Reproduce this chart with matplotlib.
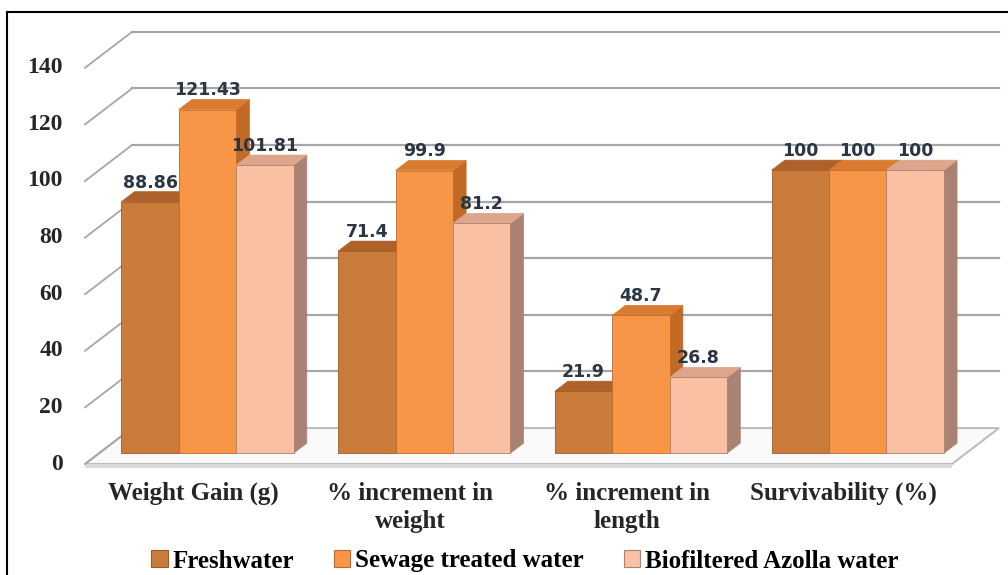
import matplotlib
matplotlib.use("Agg")
import matplotlib.pyplot as plt
from matplotlib.patches import Polygon, Patch
from matplotlib.lines import Line2D

categories = ["Weight Gain (g)", "% increment in\nweight", "% increment in\nlength", "Survivability (%)"]
series_names = ["Freshwater", "Sewage treated water", "Biofiltered Azolla water"]
freshwater = [88.86, 71.4, 21.9, 100]
sewage = [121.43, 99.9, 48.7, 100]
azolla = [101.81, 81.2, 26.8, 100]
value_labels = [["88.86", "71.4", "21.9", "100"],
                ["121.43", "99.9", "48.7", "100"],
                ["101.81", "81.2", "26.8", "100"]]
y_ticks = [0, 20, 40, 60, 80, 100, 120, 140]

# face colours: front, top, side
colors = [("#C97B3B", "#AE6128", "#A35A24"),
          ("#F79646", "#D97B30", "#C26A25"),
          ("#F9C1A2", "#DDA58B", "#AA8274")]

# oblique depth offset (category units, value units)
DX, DV = 0.217, 12.7
BAR_D0, BAR_D1 = 0.30, 0.58
BAR_W = 0.265


def proj(x, v, d):
    return (x + d * DX, v + d * DV)


def draw_bar(ax, x0, h, cols):
    front, top, side = cols
    x1 = x0 + BAR_W
    f = [proj(x0, 0, BAR_D0), proj(x1, 0, BAR_D0), proj(x1, h, BAR_D0), proj(x0, h, BAR_D0)]
    t = [proj(x0, h, BAR_D0), proj(x1, h, BAR_D0), proj(x1, h, BAR_D1), proj(x0, h, BAR_D1)]
    s = [proj(x1, 0, BAR_D0), proj(x1, 0, BAR_D1), proj(x1, h, BAR_D1), proj(x1, h, BAR_D0)]
    ax.add_patch(Polygon(s, closed=True, fc=side, ec=side, lw=0.5, zorder=3))
    ax.add_patch(Polygon(t, closed=True, fc=top, ec=top, lw=0.5, zorder=3))
    ax.add_patch(Polygon(f, closed=True, fc=front, ec=side, lw=0.6, zorder=3))


def main():
    fig = plt.figure(figsize=(10.08, 5.75), dpi=100)
    ax = fig.add_axes([0, 0, 1, 1])
    ax.set_xlim(-85 / 216.75, (1008 - 85) / 216.75)
    ax.set_ylim((464 - 575) / 2.83, 464 / 2.83)
    ax.axis("off")

    n = len(categories)
    grid_c = "#A6A6A6"

    # floor
    floor = [proj(0, 0, 0), proj(n, 0, 0), proj(n, 0, 1), proj(0, 0, 1)]
    ax.add_patch(Polygon(floor, closed=True, fc="#FAFAFA", ec="#BDBDBD", lw=1.5, zorder=1))
    ax.add_patch(Polygon([(0, 0), (n, 0), (n, -1.3), (0, -1.3)], closed=True,
                         fc="#DADADA", ec="none", zorder=1))

    # walls gridlines
    for v in y_ticks:
        xb, vb = proj(0, v, 1)
        xe, _ = proj(n, v, 1)
        if v > 0:
            ax.add_line(Line2D([xb, xe], [vb, vb], color=grid_c, lw=1.6, zorder=0))
        ax.add_line(Line2D([0, xb], [v, vb], color=grid_c, lw=1.3, zorder=2))
        ax.annotate(str(v), xy=(0, v), xytext=(-16, 0), textcoords="offset points",
                    ha="right", va="center", fontsize=17, fontweight="bold",
                    family="Liberation Serif", color="#262626")

    data = [freshwater, sewage, azolla]
    for i in range(n):
        start = i + 0.5 - 1.5 * BAR_W
        for j, vals in enumerate(data):
            x0 = start + j * BAR_W
            draw_bar(ax, x0, vals[i], colors[j])
            cx, cv = proj(x0 + BAR_W / 2, vals[i], BAR_D0)
            ax.text(cx, cv + 5.0, value_labels[j][i], ha="center", va="baseline",
                    fontsize=12.5, fontweight="bold", family="DejaVu Sans",
                    color="#2B3644", zorder=5)
        ax.annotate(categories[i], xy=(i + 0.5, 0), xytext=(0, -13), textcoords="offset points",
                    ha="center", va="top", fontsize=18, fontweight="bold",
                    family="Liberation Serif", color="#262626", linespacing=1.25)

    handles = [Patch(fc=c[0], ec=c[2], lw=0.8) for c in colors]
    fig.legend(handles, series_names, loc="center", bbox_to_anchor=(525 / 1008, 1 - 561 / 575),
               ncol=3, frameon=False, handlelength=0.65, handleheight=0.65,
               handletextpad=0.2, columnspacing=1.6,
               prop={"family": "Liberation Serif", "weight": "bold", "size": 18})

    # chart border (cropped on right and bottom)
    fig.add_artist(Line2D([7 / 1008, 7 / 1008], [0, 1 - 12 / 575], color="black", lw=1.5,
                          transform=fig.transFigure))
    fig.add_artist(Line2D([7 / 1008, 1], [1 - 12 / 575, 1 - 12 / 575], color="black", lw=1.5,
                          transform=fig.transFigure))

    fig.savefig("out.png", dpi=100)


if __name__ == "__main__":
    main()
